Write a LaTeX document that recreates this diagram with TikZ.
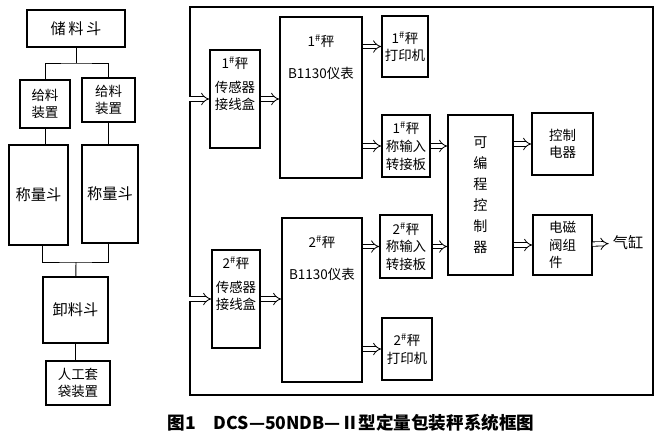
\documentclass[tikz,border=0pt]{standalone}
\usepackage{fontspec}
\setmainfont{Noto Sans CJK SC}
\usetikzlibrary{positioning,arrows.meta}

\begin{document}
\begin{tikzpicture}[
        x=0.03cm, y=-0.03cm,
        sz/.style 2 args={minimum width=#1*0.03cm, minimum height=#2*0.03cm},
        box/.style={rectangle, draw, line width=1.1pt, inner sep=0pt, align=center, font=\fontsize{11.5}{15}\selectfont},
        big/.style={box, font=\fontsize{13}{16}\selectfont},
        lbl/.style={align=center, font=\fontsize{11.5}{15}\selectfont},
        line/.style={line width=0.8pt},
        dbl/.style={double, double distance=3pt, line width=0.7pt, -{Implies}},
    ]
    \useasboundingbox (0,0) rectangle (664,439);

    % Left column: feeding and weighing line
    \node[big, sz={98}{37}] (store) at (76,28.5) {储\,料\,斗};
    \node[box, sz={50}{48}] (feedA) at (45,104) {给料\\装置};
    \node[box, sz={53}{44}] (feedB) at (108.5,100) {给料\\装置};
    \node[big, sz={59}{100}] (weighA) at (38.5,195) {称量斗};
    \node[big, sz={56}{98}] (weighB) at (110,194) {称量斗};
    \node[big, sz={65}{66}] (unload) at (75.5,310) {卸料斗};
    \node[box, sz={64}{44}] (bag) at (78,383) {人工套\\袋装置};

    \coordinate (split) at (76,63);
    \coordinate (merge) at (76,262);
    \draw[line] (store) -- (split);
    \draw[line] (feedA) |- (split) -| (feedB);
    \draw[line] (feedA) -- (feedA |- weighA.north);
    \draw[line] (feedB) -- (feedB |- weighB.north);
    \draw[line] (weighA.south -| unload.west) |- (merge) -| (weighB.south -| unload.east);
    \draw[line] (merge) -- (unload);
    \draw[line] (unload) -- (unload |- bag.north);

    % Control system frame
    \node[draw, line width=1.1pt, sz={463}{388}] (frame) at (421.5,201) {};

    % Scale 1
    \node[box, sz={50}{98}, label={[lbl, anchor=north, yshift=-3pt]north:{1\textsuperscript{\#}秤\\[5pt]传感器\\接线盒}}] (sens1) at (235,99) {};
    \node[box, sz={82}{161}, label={[lbl, anchor=north, yshift=-12pt]north:{1\textsuperscript{\#}秤\\[12pt]B1130仪表}}] (inst1) at (321,97.5) {};
    \node[box, sz={46}{61}] (prn1) at (405,46.5) {1\textsuperscript{\#}秤\\打印机};
    \node[box, sz={48}{62}] (inp1) at (406,146) {1\textsuperscript{\#}秤\\称输入\\转接板};

    % Scale 2
    \node[box, sz={48}{98}, label={[lbl, anchor=north, yshift=-3pt]north:{2\textsuperscript{\#}秤\\[5pt]传感器\\接线盒}}] (sens2) at (236,299) {};
    \node[box, sz={80}{164}, label={[lbl, anchor=north, yshift=-12pt]north:{2\textsuperscript{\#}秤\\[12pt]B1130仪表}}] (inst2) at (322,300) {};
    \node[box, sz={52}{63}] (inp2) at (406,246.5) {2\textsuperscript{\#}秤\\称输入\\转接板};
    \node[box, sz={50}{62}] (prn2) at (407,349) {2\textsuperscript{\#}秤\\打印机};

    % PLC and outputs
    \node[box, sz={65}{160}, font=\fontsize{12}{18}\selectfont] (plc) at (480.5,195) {可\\编\\程\\控\\制\\器};
    \node[box, sz={61}{62}] (ctrl) at (562.5,144) {控制\\电器};
    \node[box, sz={59}{60}, align=left] (valve) at (562.5,245) {电磁\\阀组\\件};
    \node[lbl, font=\fontsize{13}{15}\selectfont] (cyl) at (628,243) {气缸};

    \draw[dbl] (frame.west |- sens1) -- (sens1);
    \draw[dbl] (sens1) -- (sens1 -| inst1.west);
    \draw[dbl] (inst1.east |- prn1) -- (prn1);
    \draw[dbl] (inst1.east |- inp1) -- (inp1);
    \draw[dbl] (inp1) -- (inp1 -| plc.west);

    \draw[dbl] (frame.west |- sens2) -- (sens2);
    \draw[dbl] (sens2) -- (sens2 -| inst2.west);
    \draw[dbl] (inst2.east |- inp2) -- (inp2);
    \draw[dbl] (inst2.east |- prn2) -- (prn2);
    \draw[dbl] (inp2) -- (inp2 -| plc.west);

    \draw[dbl] (plc.east |- ctrl) -- (ctrl);
    \draw[dbl] (plc.east |- valve) -- (valve);
    \draw[dbl] (valve) -- (cyl);

    % Caption
    \node[font=\bfseries\fontsize{15}{17}\selectfont] (title) at (351,423) {图1\quad DCS—50NDB—Ⅱ型定量包装秤系统框图};

\end{tikzpicture}
\end{document}
